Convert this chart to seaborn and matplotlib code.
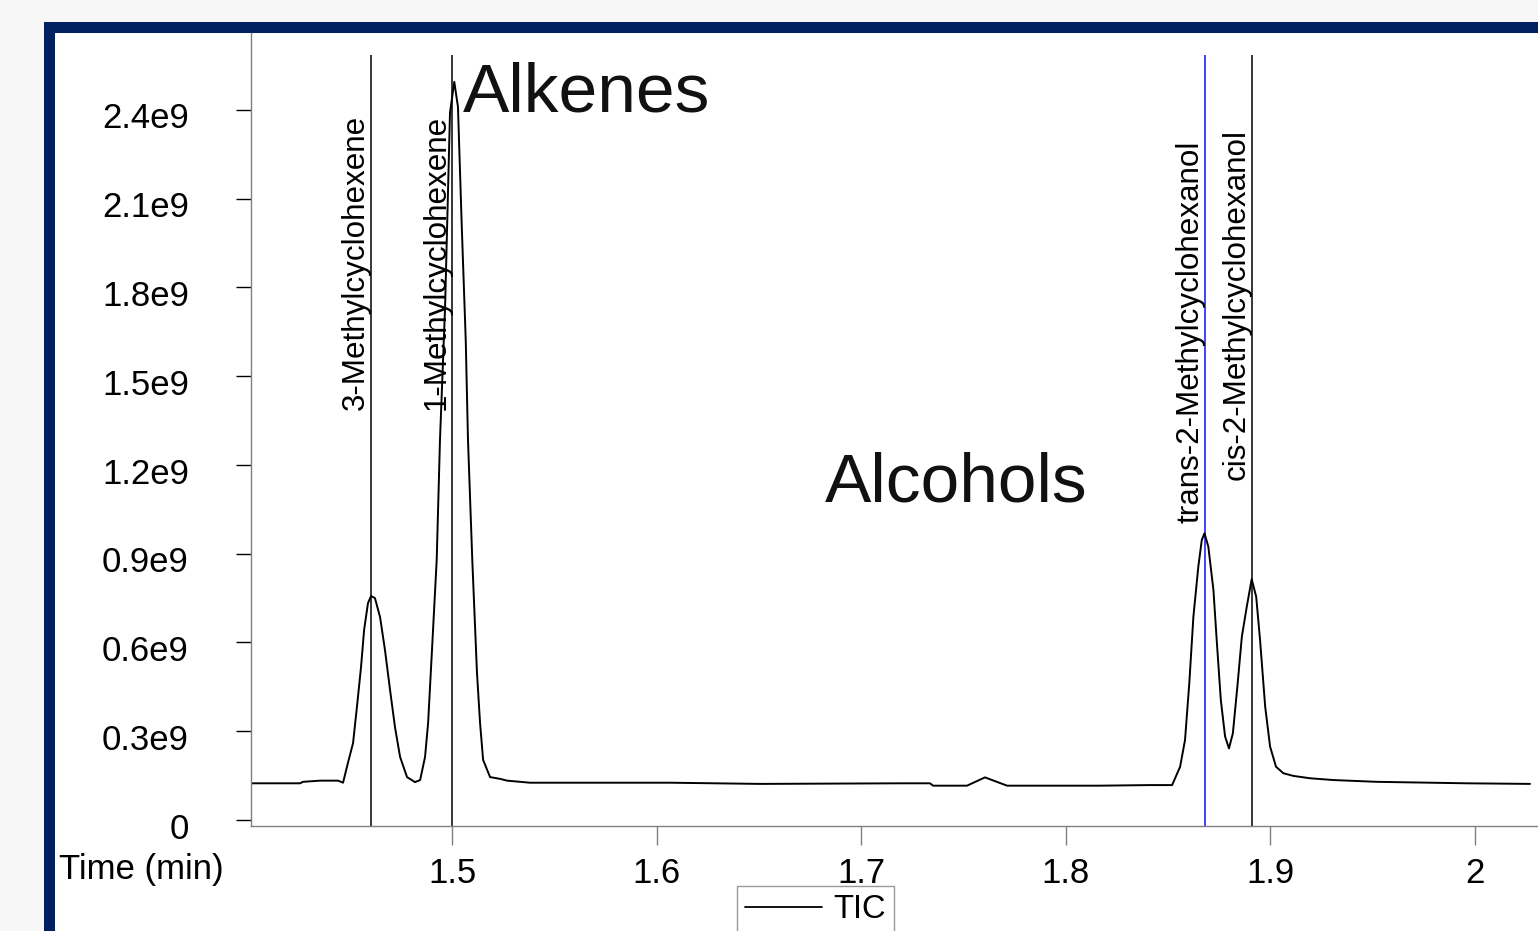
import matplotlib
matplotlib.use("Agg")
import matplotlib.pyplot as plt
import matplotlib.transforms as mtransforms
import seaborn as sns
import pandas as pd
from matplotlib.patches import Rectangle

# ---------------- data ----------------
time_min = [1.4022, 1.4257, 1.4271, 1.4355, 1.4443, 1.4467, 1.4491, 1.4516, 1.4535,
            1.4555, 1.4570, 1.4589, 1.4604, 1.4623, 1.4648, 1.4672, 1.4697, 1.4721,
            1.4746, 1.4780, 1.4819, 1.4844, 1.4868, 1.4883, 1.4902, 1.4925, 1.4941,
            1.4966, 1.4990, 1.5011, 1.5029, 1.5047, 1.5067, 1.5078, 1.5099, 1.5122,
            1.5137, 1.5152, 1.5186, 1.5235, 1.5269, 1.5381, 1.6066, 1.6506, 1.7191,
            1.7337, 1.7352, 1.7518, 1.7606, 1.7714, 1.8169, 1.8413, 1.8521, 1.8560,
            1.8584, 1.8605, 1.8625, 1.8649, 1.8666, 1.8679, 1.8698, 1.8723, 1.8739,
            1.8759, 1.8780, 1.8799, 1.8818, 1.8840, 1.8862, 1.8886, 1.8910, 1.8932,
            1.8951, 1.8976, 1.9000, 1.9029, 1.9065, 1.9114, 1.9196, 1.9310, 1.9522,
            1.9962, 2.0271]
tic_e9 = [0.124, 0.124, 0.129, 0.133, 0.133, 0.126, 0.193, 0.260, 0.382,
          0.517, 0.642, 0.733, 0.757, 0.750, 0.686, 0.575, 0.439, 0.314,
          0.213, 0.145, 0.128, 0.135, 0.213, 0.328, 0.575, 0.879, 1.284,
          1.734, 2.390, 2.495, 2.410, 2.018, 1.622, 1.284, 0.879, 0.497,
          0.328, 0.203, 0.145, 0.139, 0.133, 0.126, 0.126, 0.122, 0.124,
          0.124, 0.116, 0.116, 0.144, 0.116, 0.116, 0.118, 0.118, 0.180,
          0.270, 0.463, 0.687, 0.856, 0.946, 0.969, 0.924, 0.777, 0.608,
          0.406, 0.282, 0.242, 0.293, 0.451, 0.620, 0.721, 0.814, 0.755,
          0.608, 0.383, 0.248, 0.180, 0.158, 0.149, 0.141, 0.135, 0.129,
          0.124, 0.122]

compound_names = ["3-Methylcyclohexene", "1-Methylcyclohexene",
                  "trans-2-Methylcyclohexanol", "cis-2-Methylcyclohexanol"]
compound_times = [1.4604, 1.5000, 1.8684, 1.8910]
label_base_e9 = [1.386, 1.386, 1.004, 1.149]
marker_colors = ["black", "black", "#1010ff", "black"]

ytick_values_e9 = [0, 0.3, 0.6, 0.9, 1.2, 1.5, 1.8, 2.1, 2.4]
ytick_labels = ["0", "0.3e9", "0.6e9", "0.9e9", "1.2e9", "1.5e9", "1.8e9", "2.1e9", "2.4e9"]
xtick_values = [1.5, 1.6, 1.7, 1.8, 1.9, 2.0]
xtick_labels = ["1.5", "1.6", "1.7", "1.8", "1.9", "2"]

group_labels = ["Alkenes", "Alcohols"]
group_pos = [(1.5054, 2.393), (1.6824, 1.075)]

# ---------------- style ----------------
sns.set_style("white")
FONT = ["Liberation Sans", "DejaVu Sans"]
plt.rcParams["font.family"] = FONT

W, H = 1538, 931
fig = plt.figure(figsize=(W / 100, H / 100), dpi=100, facecolor="#f7f7f7")
# navy frame and white panel
fig.patches.append(Rectangle((44 / W, -0.1), 1.2, (931 - 22) / H + 0.1,
                             transform=fig.transFigure, facecolor="#002060",
                             edgecolor="none", zorder=-10))
fig.patches.append(Rectangle((55 / W, -0.1), 1.2, (931 - 33) / H + 0.1,
                             transform=fig.transFigure, facecolor="white",
                             edgecolor="none", zorder=-9))

ax = fig.add_axes([251 / W, 1 - 826 / H, 1 - 251 / W, (826 - 33) / H])
ax.set_facecolor("none")

df = pd.DataFrame({"Time (min)": time_min, "TIC": [v * 1e9 for v in tic_e9]})
sns.lineplot(data=df, x="Time (min)", y="TIC", ax=ax, color="black",
             linewidth=1.4, label="TIC", estimator=None)

ax.set_xlim(1.4017, 2.031)
ax.set_ylim(-0.0203e9, 2.660e9)

ymin, ymax = ax.get_ylim()
for t, name, base, col in zip(compound_times, compound_names, label_base_e9, marker_colors):
    ax.vlines(t, ymin, 2.586e9, color=col, linewidth=1.1, zorder=1)
    ax.text(t, base * 1e9, name, rotation=90, ha="right", va="bottom",
            fontsize=22.6, color="black")

for lbl, (gx, gy) in zip(group_labels, group_pos):
    ax.text(gx, gy * 1e9, lbl, ha="left", va="baseline", fontsize=50,
            color="#111111")

ax.set_yticks([v * 1e9 for v in ytick_values_e9])
ax.set_yticklabels(ytick_labels)
ax.set_xticks(xtick_values)
ax.set_xticklabels(xtick_labels)
ax.set_xlabel("")
ax.set_ylabel("")

ax.tick_params(axis="y", direction="out", length=10.8, width=1, color="black",
               pad=34, labelsize=25, left=True, labelcolor="black")
ax.tick_params(axis="x", direction="out", length=14, width=1, color="#808080",
               pad=8, labelsize=25, bottom=True, labelcolor="black")

# y tick labels sit slightly below their ticks in the reference
shift = mtransforms.ScaledTranslation(0, -4 / 72, fig.dpi_scale_trans)
for lab in ax.get_yticklabels():
    lab.set_transform(lab.get_transform() + shift)

for s in ["top", "right"]:
    ax.spines[s].set_visible(False)
for s in ["left", "bottom"]:
    ax.spines[s].set_color("#808080")
    ax.spines[s].set_linewidth(1)

fig.text(224 / W, 1 - 870 / H, "Time (min)", ha="right", va="center",
         fontsize=25, color="black")

leg = ax.legend(loc="upper left", bbox_to_anchor=(737 / W, 1 - 886 / H),
                bbox_transform=fig.transFigure, borderaxespad=0, fontsize=23.5,
                frameon=True, fancybox=False, handlelength=2.35,
                handletextpad=0.35, borderpad=0.25, labelcolor="black")
leg.get_frame().set_edgecolor("#808080")
leg.get_frame().set_linewidth(1)
for line in leg.get_lines():
    line.set_linewidth(1.3)

fig.savefig("out.png", dpi=100, facecolor=fig.get_facecolor())
